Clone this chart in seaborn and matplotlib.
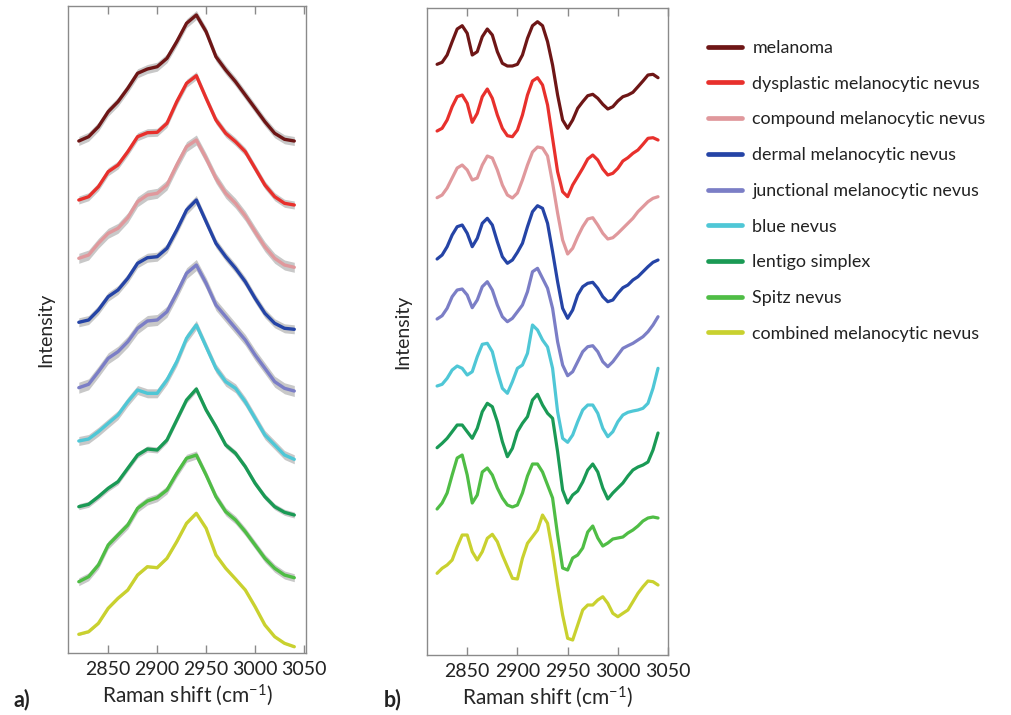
import numpy as np
import pandas as pd
import matplotlib
matplotlib.use("Agg")
import matplotlib.pyplot as plt
import seaborn as sns
from matplotlib.lines import Line2D

# ---------------- data ----------------
classes = ["melanoma", "dysplastic melanocytic nevus", "compound melanocytic nevus",
           "dermal melanocytic nevus", "junctional melanocytic nevus", "blue nevus",
           "lentigo simplex", "Spitz nevus", "combined melanocytic nevus"]
colors = ["#6e1616", "#e8302c", "#e0989c", "#2544a6", "#7b7ec6", "#4fc7d6",
          "#1a9a55", "#4fbd45", "#c9d12f"]

shift_a = np.arange(2820, 3041, 10)   # cm-1, panel a
shift_b = np.arange(2820, 3041, 5)    # cm-1, panel b

# panel a: mean spectra (offset, a.u.)
a_melanoma = [514.0, 518.3, 528.3, 543.3, 553.3, 566.7, 581.7, 586.0, 588.3, 596.7, 613.3, 631.7, 640.0, 623.3, 598.3, 585.0, 573.3, 560.0, 546.7, 533.3, 521.7, 515.7, 514.0]
a_dysplastic = [455.0, 458.3, 468.3, 483.3, 490.0, 503.3, 518.3, 522.3, 522.7, 531.7, 553.3, 571.7, 579.3, 556.7, 535.0, 521.7, 513.3, 503.3, 486.7, 470.0, 458.3, 451.7, 450.0]
a_compound = [396.7, 400.0, 411.7, 421.7, 426.7, 437.3, 453.3, 460.0, 461.7, 470.0, 490.0, 508.3, 515.0, 496.7, 476.7, 461.7, 451.7, 439.0, 423.3, 408.3, 396.7, 390.0, 387.7]
a_dermal = [332.7, 335.0, 345.0, 358.3, 365.0, 376.7, 391.7, 397.3, 398.3, 406.7, 425.0, 445.0, 455.0, 433.3, 411.7, 398.3, 386.7, 373.3, 356.7, 341.7, 331.7, 326.7, 325.7]
a_junctional = [267.3, 270.7, 283.3, 296.7, 303.3, 313.3, 326.7, 334.0, 335.0, 343.3, 361.7, 381.7, 390.0, 371.7, 350.0, 338.3, 326.7, 315.0, 300.0, 286.7, 273.3, 266.7, 264.0]
a_blue = [214.0, 216.0, 223.3, 231.7, 240.0, 253.3, 265.0, 261.7, 261.7, 275.0, 293.3, 316.7, 330.0, 308.3, 286.7, 273.3, 266.7, 253.3, 236.7, 220.0, 210.0, 200.0, 195.7]
a_lentigo = [148.3, 150.7, 158.3, 166.7, 173.3, 186.7, 200.0, 206.0, 205.0, 215.0, 235.0, 255.0, 266.0, 245.0, 228.3, 210.0, 201.7, 188.3, 171.7, 158.3, 148.3, 142.7, 140.0]
a_spitz = [73.3, 78.3, 90.0, 110.0, 120.0, 130.0, 146.7, 154.0, 157.3, 165.0, 181.7, 196.7, 200.0, 180.0, 158.3, 143.3, 135.0, 123.3, 110.0, 96.7, 86.7, 80.0, 77.3]
a_combined = [20.7, 23.3, 31.7, 46.7, 56.7, 65.0, 80.0, 88.3, 87.3, 96.7, 113.3, 131.7, 141.7, 126.7, 100.0, 86.7, 76.0, 65.0, 48.3, 30.0, 18.3, 11.7, 8.3]
a_sd = [4.5, 4.0, 5.0, 4.5, 5.5, 4.5, 3.0, 4.0, 1.0]

# panel b: second-derivative-like spectra (offset, a.u.)
b_melanoma = [590.7, 592.7, 600, 613.3, 626, 629.3, 621.7, 600, 603.3, 618.3, 626, 620, 603.3, 591.7, 589, 589, 590.7, 600, 616.7, 629.3, 633.3, 629.3, 613.3, 590, 560, 535, 526.7, 535, 546.7, 553.3, 559.3, 560.7, 556.7, 550.7, 546, 548.3, 554, 558.3, 560, 562.7, 568.3, 574, 580, 580.7, 577.3]
b_dysplastic = [524, 526.7, 535, 548.3, 558.3, 560, 551.7, 532.7, 541.7, 558.3, 566, 556.7, 540, 526.7, 519.3, 518.3, 525, 540, 560, 574, 577.3, 570, 550, 516.7, 483.3, 463.3, 458.3, 470, 478.3, 486.7, 496, 500, 495, 486, 480, 481.7, 486.7, 494, 497.3, 501.7, 505, 510.7, 516.7, 517.3, 515]
b_compound = [457.3, 460, 467, 477, 487, 490, 485, 475, 477, 490, 499, 497, 485, 470, 460, 457, 462, 475, 490, 503, 508, 507, 499, 472, 442, 415, 401, 406.7, 418.3, 428.3, 436, 437.3, 430, 421.7, 416, 417.3, 421.7, 426.7, 431.7, 436.7, 443.3, 448.3, 453.3, 456.7, 458.3]
b_dermal = [396, 400, 408.3, 420, 428.3, 430, 421.7, 408.3, 416.7, 431.7, 436.7, 430, 413.3, 398.3, 391.7, 395, 402.7, 411.7, 428.3, 443.3, 449.3, 446.7, 431.7, 403.3, 373.3, 346.7, 336.7, 345, 360, 368.3, 371.7, 372.7, 366.7, 358.3, 353.3, 355, 361.7, 367.3, 370, 375, 378.3, 383.3, 388.3, 392.7, 395]
b_junctional = [336, 339.3, 346.7, 358.3, 365, 366, 360, 347.3, 355, 368.3, 373.3, 365, 350, 338.3, 333.3, 336.7, 343.3, 350, 363.3, 383.3, 386.7, 376.7, 366.7, 346.7, 313.3, 290, 279.3, 283.3, 293.3, 303.3, 308.3, 309.3, 303.3, 293.3, 288.3, 293.3, 300, 306.7, 309.3, 311.7, 315, 318.3, 323.3, 330, 338.3]
b_blue = [269, 270.7, 276.7, 285, 289, 286.7, 280, 283.3, 298.3, 310.7, 311.7, 303.3, 283.3, 266.7, 261.7, 273.3, 286.7, 290, 301.7, 330, 325, 315, 308, 286.7, 243.3, 216.7, 212.7, 220, 233.3, 245, 250, 250, 241.7, 226.7, 218.3, 223.3, 233.3, 240, 242.7, 244, 245, 246.7, 251.7, 266.7, 286.7]
b_lentigo = [207.3, 211.7, 216.7, 223.3, 230, 230, 223.3, 216.7, 226.7, 243.3, 251.7, 248.3, 233.3, 213.3, 198.3, 206.7, 223.3, 231.7, 238.3, 255, 260.7, 250, 241.7, 236.7, 203.3, 165, 152, 160, 164, 173, 185, 191, 183, 167, 156, 162, 167, 172, 179, 185, 188, 190, 193, 205, 222]
b_spitz = [146, 152, 162, 180, 197, 200, 180, 152, 160, 183, 187, 180, 167, 157, 150, 148, 150, 162, 179, 191, 191, 183, 170, 157, 120, 87, 85, 97, 100, 107, 123, 129, 117, 109, 112, 116, 117, 118, 122, 125, 129, 134, 137, 138, 137]
b_combined = [81.7, 86.7, 90, 95, 108.3, 120, 120, 103.3, 95, 103.3, 116.7, 120.7, 113.3, 100, 88.3, 76.7, 76, 96.7, 111.7, 118.3, 125, 140, 131.7, 103.3, 70, 40, 16.7, 15, 30, 45, 50, 50, 55, 58.3, 51.7, 41.7, 38.3, 41.7, 45, 53.3, 61.7, 68.3, 74, 73.3, 70]

xticks = [2850, 2900, 2950, 3000, 3050]

a_series = [a_melanoma, a_dysplastic, a_compound, a_dermal, a_junctional, a_blue,
            a_lentigo, a_spitz, a_combined]
b_series = [b_melanoma, b_dysplastic, b_compound, b_dermal, b_junctional, b_blue,
            b_lentigo, b_spitz, b_combined]

dfA = pd.concat([pd.DataFrame({"shift": shift_a, "intensity": v, "cls": c})
                 for c, v in zip(classes, a_series)], ignore_index=True)
dfB = pd.concat([pd.DataFrame({"shift": shift_b, "intensity": v, "cls": c})
                 for c, v in zip(classes, b_series)], ignore_index=True)
palette = dict(zip(classes, colors))

# ---------------- style ----------------
sns.set_theme(style="white")
plt.rcParams["font.family"] = ["Lato", "DejaVu Sans"]
plt.rcParams["text.color"] = "#222222"

fig = plt.figure(figsize=(10.11, 7.15), dpi=100)
axA = fig.add_axes([0.0673, 0.0867, 0.2354, 0.9049])
axB = fig.add_axes([0.4224, 0.0839, 0.2384, 0.9049])

for c, v, sd in zip(classes, a_series, a_sd):
    v = np.asarray(v)
    axA.fill_between(shift_a, v - sd, v + sd, color="#c8c8c8", lw=0, zorder=1)

line_kw = dict(solid_joinstyle="round", solid_capstyle="round")
sns.lineplot(data=dfA, x="shift", y="intensity", hue="cls", hue_order=classes,
             palette=palette, ax=axA, legend=False, linewidth=2.4,
             estimator=None, sort=False, zorder=2, **line_kw)
sns.lineplot(data=dfB, x="shift", y="intensity", hue="cls", hue_order=classes,
             palette=palette, ax=axB, legend=False, linewidth=2.3,
             estimator=None, sort=False, zorder=2, **line_kw)

axA.set_xlim(2809, 3052)
axA.set_ylim(2, 649)
axB.set_xlim(2810, 3050)
axB.set_ylim(0, 647)

for ax, lx in ((axA, -0.058), (axB, -0.065)):
    ax.set_xticks(xticks)
    ax.set_yticks([])
    ax.tick_params(axis="x", direction="in", top=True, bottom=True, length=6,
                   width=1, color="#8a8a8a", labelsize=14, pad=6,
                   labelcolor="#222222")
    for s in ax.spines.values():
        s.set_color("#8a8a8a")
        s.set_linewidth(1.0)
    ax.set_xlabel("Raman shift ($\\mathregular{cm^{-1}}$)", fontsize=15, labelpad=3)
    ax.set_ylabel("Intensity", fontsize=14)
    ax.yaxis.set_label_coords(lx, 0.5)

handles = [Line2D([0], [0], color=c, lw=3.4) for c in colors]
fig.legend(handles, classes, loc="upper left", bbox_to_anchor=(0.700, 0.944),
           frameon=False, fontsize=12.9, handlelength=1.9, handletextpad=0.6,
           labelspacing=1.1, borderpad=0, borderaxespad=0)

fig.text(14 / 1011, 0.012, "a)", fontsize=15.5, fontweight="bold", va="baseline")
fig.text(384 / 1011, 0.012, "b)", fontsize=15.5, fontweight="bold", va="baseline")

fig.savefig("out.png", dpi=100)
